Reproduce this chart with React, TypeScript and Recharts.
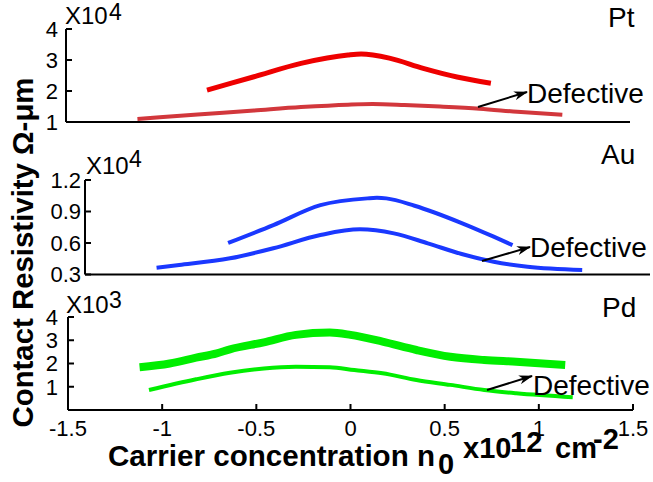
import React from 'react';
import { LineChart, Line, XAxis, YAxis } from 'recharts';

// carrier concentration axis (x10^12 cm^-2)
const X_TICKS = [-1.5, -1, -0.5, 0, 0.5, 1, 1.5];

// Pt (x10^4 ohm-um)
const PT_X = [-0.75, -0.5, -0.25, 0.0, 0.07, 0.22, 0.4, 0.58, 0.76];
const PT_Y = [2.03, 2.46, 2.89, 3.16, 3.19, 3.06, 2.73, 2.45, 2.25];
const PT_DEF_X = [-1.12, -0.8, -0.5, -0.25, 0.0, 0.13, 0.3, 0.49, 0.7, 0.9, 1.14];
const PT_DEF_Y = [1.1, 1.24, 1.37, 1.48, 1.56, 1.58, 1.55, 1.5, 1.43, 1.33, 1.23];
const PT_TICKS = [1, 2, 3, 4];

// Au (x10^4 ohm-um)
const AU_X = [-0.74, -0.5, -0.25, 0.0, 0.05, 0.1, 0.25, 0.5, 0.67, 0.77];
const AU_Y = [0.6, 0.77, 0.96, 1.025, 1.03, 1.025, 0.955, 0.79, 0.66, 0.58];
const AU_DEF_X = [-1.12, -1.0, -0.73, -0.5, -0.25, -0.04, 0.14, 0.32, 0.5, 0.67, 0.85, 1.14];
const AU_DEF_Y = [0.365, 0.39, 0.454, 0.55, 0.676, 0.73, 0.692, 0.597, 0.495, 0.422, 0.374, 0.343];
const AU_TICKS = [0.3, 0.6, 0.9, 1.2];

// Pd (x10^3 ohm-um)
const PD_X = [-1.12, -0.96, -0.82, -0.71, -0.64, -0.46, -0.29, -0.11, 0.0, 0.17, 0.35, 0.53, 0.71, 0.88, 1.14];
const PD_Y = [1.84, 2.0, 2.25, 2.44, 2.61, 2.91, 3.23, 3.33, 3.23, 2.94, 2.58, 2.29, 2.15, 2.08, 1.94];
const PD_DEF_X = [-1.07, -0.82, -0.64, -0.46, -0.29, -0.11, 0.02, 0.17, 0.35, 0.53, 0.71, 0.88, 1.18];
const PD_DEF_Y = [0.86, 1.32, 1.6, 1.79, 1.86, 1.84, 1.72, 1.58, 1.29, 1.08, 0.86, 0.72, 0.55];
const PD_TICKS = [1, 2, 3, 4];

const FONT = '"Liberation Sans", Arial, sans-serif';

const zip = (xs: number[], ys: number[]) => xs.map((x, i) => ({ x, y: ys[i] }));

interface Series {
  data: { x: number; y: number }[];
  color: string;
  width: number;
}

interface PanelProps {
  top: number;
  height: number;
  left: number;
  right: number;
  plotTop: number;
  plotBottom: number;
  yDomain: [number, number];
  yTicks: number[];
  yGap: number;
  showXLabels?: boolean;
  series: Series[];
}

function Panel({ top, height, left, right, plotTop, plotBottom, yDomain, yTicks, yGap, showXLabels, series }: PanelProps) {
  const tickStyle = { fill: '#000', fontSize: 22, fontFamily: FONT };
  const xh = showXLabels ? 30 : 1;
  return (
    <div style={{ position: 'absolute', left: 0, top }}>
      <LineChart
        width={653}
        height={height}
        margin={{ top: plotTop, right, bottom: plotBottom - xh, left: 0 }}
      >
        <XAxis
          dataKey="x"
          type="number"
          domain={[-1.5, 1.5]}
          ticks={X_TICKS}
          allowDataOverflow
          height={xh}
          axisLine={{ stroke: '#000', strokeWidth: 2 }}
          tickLine={{ stroke: '#000', strokeWidth: 2 }}
          tickSize={-6}
          tickMargin={16}
          tick={showXLabels ? tickStyle : false}
          interval={0}
        />
        <YAxis
          type="number"
          domain={yDomain}
          ticks={yTicks}
          allowDataOverflow
          width={left}
          axisLine={{ stroke: '#000', strokeWidth: 2 }}
          tickLine={{ stroke: '#000', strokeWidth: 2 }}
          tickSize={-6}
          tickMargin={yGap + 6}
          tick={tickStyle}
          interval={0}
        />
        {series.map((s, i) => (
          <Line
            key={i}
            data={s.data}
            dataKey="y"
            type="monotone"
            stroke={s.color}
            strokeWidth={s.width}
            dot={false}
            activeDot={false}
            isAnimationActive={false}
          />
        ))}
      </LineChart>
    </div>
  );
}

export default function App() {
  const txt = { fontFamily: FONT, fill: '#000' };
  const bold = { ...txt, fontWeight: 700, fontSize: 29 };
  return (
    <div style={{ position: 'absolute', left: 0, top: 0, width: 653, height: 482, background: '#fff' }}>
      <Panel
        top={0}
        height={140}
        left={66}
        right={23}
        plotTop={29}
        plotBottom={18}
        yDomain={[1, 4]}
        yTicks={PT_TICKS}
        yGap={8}
        series={[
          { data: zip(PT_DEF_X, PT_DEF_Y), color: '#d2373c', width: 4 },
          { data: zip(PT_X, PT_Y), color: '#ee0000', width: 5 },
        ]}
      />
      <Panel
        top={140}
        height={150}
        left={85}
        right={3}
        plotTop={40}
        plotBottom={15.5}
        yDomain={[0.3, 1.2]}
        yTicks={AU_TICKS}
        yGap={4}
        series={[
          { data: zip(AU_DEF_X, AU_DEF_Y), color: '#1a38ff', width: 4 },
          { data: zip(AU_X, AU_Y), color: '#1a38ff', width: 4 },
        ]}
      />
      <Panel
        top={290}
        height={192}
        left={68}
        right={20}
        plotTop={27}
        plotBottom={72}
        yDomain={[0, 4]}
        yTicks={PD_TICKS}
        yGap={10}
        showXLabels
        series={[
          { data: zip(PD_DEF_X, PD_DEF_Y), color: '#00ee00', width: 4 },
          { data: zip(PD_X, PD_Y), color: '#00ee00', width: 8 },
        ]}
      />
      <svg
        width={653}
        height={482}
        style={{ position: 'absolute', left: 0, top: 0, pointerEvents: 'none' }}
      >
        <defs>
          <marker id="ah" markerUnits="userSpaceOnUse" markerWidth={14} markerHeight={10} refX={13} refY={5} orient="auto">
            <path d="M0,0.5 L14,5 L0,9.5 L4,5 z" fill="#000" />
          </marker>
        </defs>

        {/* exponents */}
        <text x={65} y={24} fontSize={24} style={txt}>X10</text>
        <text x={109} y={20} fontSize={23} style={txt}>4</text>
        <text x={86} y={174} fontSize={24} style={txt}>X10</text>
        <text x={129} y={167} fontSize={23} style={txt}>4</text>
        <text x={66} y={313} fontSize={24} style={txt}>X10</text>
        <text x={109} y={308} fontSize={23} style={txt}>3</text>

        {/* metal names */}
        <text x={608} y={27} fontSize={28} style={txt}>Pt</text>
        <text x={601} y={164} fontSize={28} style={txt}>Au</text>
        <text x={602} y={317} fontSize={28} style={txt}>Pd</text>

        {/* defective annotations */}
        <line x1={478} y1={107} x2={527} y2={92} stroke="#000" strokeWidth={2} markerEnd="url(#ah)" />
        <text x={527} y={103} fontSize={28} style={txt}>Defective</text>
        <line x1={482} y1={261} x2={530} y2={247} stroke="#000" strokeWidth={2} markerEnd="url(#ah)" />
        <text x={530} y={257} fontSize={28} style={txt}>Defective</text>
        <line x1={487} y1={390} x2={532} y2={376} stroke="#000" strokeWidth={2} markerEnd="url(#ah)" />
        <text x={533} y={395} fontSize={28} style={txt}>Defective</text>

        {/* axis titles */}
        <text
          transform="translate(33,252.5) rotate(-90)"
          textAnchor="middle"
          textLength={350}
          lengthAdjust="spacingAndGlyphs"
          style={bold}
        >
          Contact Resistivity Ω-μm
        </text>
        <text x={108} y={466} textLength={327} lengthAdjust="spacingAndGlyphs" style={bold}>
          Carrier concentration n
        </text>
        <text x={438} y={474} style={bold}>0</text>
        <text x={463} y={458} style={bold}>x10</text>
        <text x={510} y={452} style={bold}>12</text>
        <text x={555} y={458} style={bold}>cm</text>
        <text x={593} y={449} style={bold}>-2</text>
      </svg>
    </div>
  );
}
